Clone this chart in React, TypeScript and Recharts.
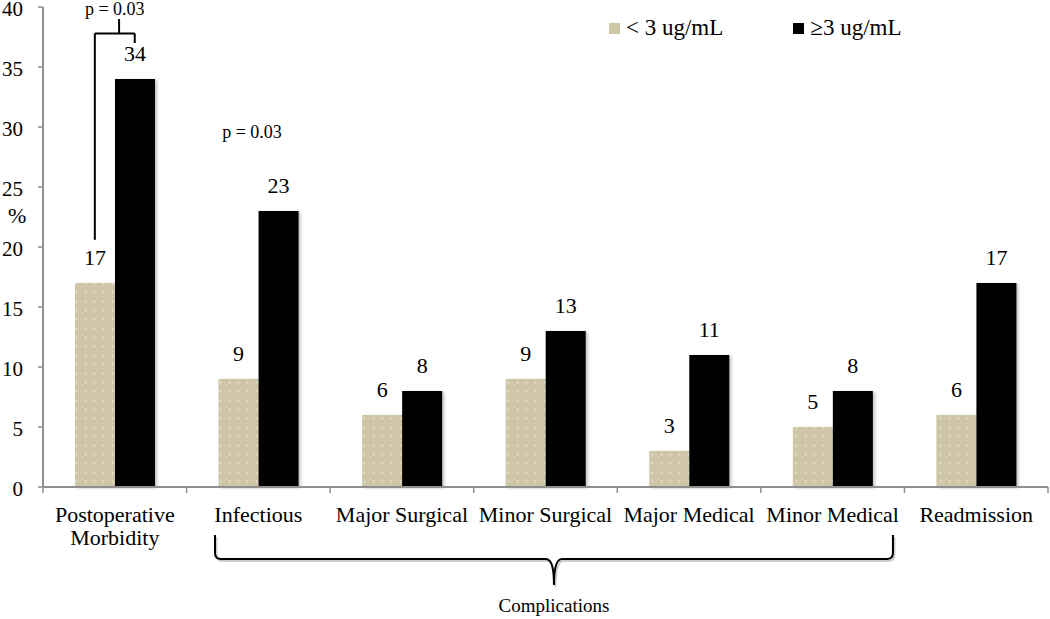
import { BarChart, Bar, XAxis, YAxis, LabelList, Legend, ReferenceLine, ReferenceDot } from 'recharts'

const categories = [
  'Postoperative Morbidity',
  'Infectious',
  'Major Surgical',
  'Minor Surgical',
  'Major Medical',
  'Minor Medical',
  'Readmission',
]
const lowValues = [17, 9, 6, 9, 3, 5, 6]
const highValues = [34, 23, 8, 13, 11, 8, 17]
const seriesNames = ['< 3 ug/mL', '≥3 ug/mL']
const yTicks = [0, 5, 10, 15, 20, 25, 30, 35, 40]

// pos = category centre on a 0..7 index scale, used only to place the annotations
const data = categories.map((name, i) => ({ name, pos: i + 0.5, low: lowValues[i], high: highValues[i] }))

const W = 1050
const H = 619
const margin = { top: 7, right: 2, bottom: 0, left: 0 }
const yAxisWidth = 43
const band = (W - margin.left - margin.right - yAxisWidth) / categories.length

const FONT = "'Liberation Serif', 'Times New Roman', serif"
const AXIS = '#8f8f8f'
const BEIGE = '#cec6a6'

function CategoryTick(props: any) {
  const { x, y, payload, index } = props
  const value: string = payload.value
  const lines = value.length > 15 ? value.split(' ') : [value]
  const last = index === categories.length - 1
  return (
    <g>
      <line x1={x - band / 2} x2={x - band / 2} y1={y} y2={y + 6} stroke={AXIS} strokeWidth={1.5} />
      {last && <line x1={x + band / 2} x2={x + band / 2} y1={y} y2={y + 6} stroke={AXIS} strokeWidth={1.5} />}
      <text x={x} y={y + 35} textAnchor="middle" fontSize={22} fill="#000" fontFamily={FONT}>
        {lines.map((l, i) => (
          <tspan key={i} x={x} dy={i === 0 ? 0 : 23}>{l}</tspan>
        ))}
      </text>
    </g>
  )
}

function LegendBox() {
  const colors = [BEIGE, '#000']
  return (
    <div style={{ display: 'flex', gap: 70, fontFamily: FONT, fontSize: 23, lineHeight: '26px' }}>
      {seriesNames.map((n, i) => (
        <div key={n} style={{ display: 'flex', alignItems: 'center', gap: 6 }}>
          <span style={{ width: 11, height: 11, background: colors[i], display: 'inline-block' }} />
          <span>{n}</span>
        </div>
      ))}
    </div>
  )
}

function Brace(props: any) {
  const { x1, y1, x2, y2 } = props
  const cx = (x1 + x2) / 2
  const yh = y1 + (y2 - y1) * 0.48
  const d = `M${x1},${y1} L${x1},${yh - 6} Q${x1},${yh} ${x1 + 6},${yh} L${cx - 8},${yh} Q${cx},${yh} ${cx},${y2} Q${cx},${yh} ${cx + 8},${yh} L${x2 - 6},${yh} Q${x2},${yh} ${x2},${yh - 6} L${x2},${y1}`
  return (
    <g>
      <path d={d} fill="none" stroke="#ccc" strokeWidth={2} transform="translate(1.5,2)" />
      <path d={d} fill="none" stroke="#000" strokeWidth={2} />
      <text x={cx} y={y2 + 27} textAnchor="middle" fontSize={19} fontFamily={FONT} fill="#000">
        Complications
      </text>
    </g>
  )
}

const pText = (p: any) => (
  <text x={p.cx} y={p.cy} textAnchor="middle" fontSize={18} fontFamily={FONT} fill="#000">
    p = 0.03
  </text>
)

export default function App() {
  return (
    <div style={{ position: 'absolute', left: 0, top: 0, width: W, height: H, background: '#fff', fontFamily: FONT }}>
      <BarChart width={W} height={H} data={data} margin={margin} barGap={0}>
        <defs>
          <pattern id="dots" width="9" height="9" patternUnits="userSpaceOnUse">
            <rect width="9" height="9" fill={BEIGE} />
            <circle cx="4.5" cy="4.5" r="1" fill="#e9e5d6" />
          </pattern>
          <filter id="shadow" x="-10%" y="-10%" width="130%" height="120%">
            <feDropShadow dx="2" dy="1" stdDeviation="1.5" floodColor="#000" floodOpacity="0.25" />
          </filter>
        </defs>
        <XAxis
          dataKey="name"
          height={132}
          axisLine={{ stroke: AXIS, strokeWidth: 2 }}
          tickLine={false}
          tickSize={0}
          tickMargin={0}
          interval={0}
          tick={<CategoryTick />}
        />
        <XAxis xAxisId="n" dataKey="pos" type="number" domain={[0, 7]} allowDataOverflow hide />
        <YAxis
          width={yAxisWidth}
          domain={[0, 40]}
          ticks={yTicks}
          interval={0}
          axisLine={{ stroke: AXIS, strokeWidth: 2 }}
          tickLine={{ stroke: AXIS, strokeWidth: 1.5 }}
          tickSize={5}
          tickMargin={15}
          tick={{ fill: '#000', fontSize: 21, fontFamily: FONT, dy: 1.5 }}
          label={{ value: '%', position: 'insideLeft', offset: 8, dy: -32, angle: 0, fill: '#000', fontSize: 22, fontFamily: FONT }}
        />
        <Legend
          verticalAlign="middle"
          align="center"
          layout="horizontal"
          wrapperStyle={{ top: 15, left: 609, width: 'auto' }}
          content={<LegendBox />}
        />
        <Bar dataKey="low" name={seriesNames[0]} fill="url(#dots)" barSize={40} filter="url(#shadow)" isAnimationActive={false}>
          <LabelList dataKey="low" position="top" offset={18} fill="#000" fontSize={22} fontFamily={FONT} />
        </Bar>
        <Bar dataKey="high" name={seriesNames[1]} fill="#000" barSize={40} filter="url(#shadow)" isAnimationActive={false}>
          <LabelList dataKey="high" position="top" offset={18} fill="#000" fontSize={22} fontFamily={FONT} />
        </Bar>

        <ReferenceLine xAxisId="n" ifOverflow="visible" stroke="#000" strokeWidth={2} segment={[{ x: 0.361, y: 20.6 }, { x: 0.361, y: 37.8 }]} />
        <ReferenceLine xAxisId="n" ifOverflow="visible" stroke="#000" strokeWidth={2} segment={[{ x: 0.361, y: 37.8 }, { x: 0.639, y: 37.8 }]} />
        <ReferenceLine xAxisId="n" ifOverflow="visible" stroke="#000" strokeWidth={2} segment={[{ x: 0.639, y: 37.8 }, { x: 0.639, y: 37.0 }]} />
        <ReferenceLine xAxisId="n" ifOverflow="visible" stroke="#000" strokeWidth={2} segment={[{ x: 0.53, y: 37.8 }, { x: 0.53, y: 39.0 }]} />
        <ReferenceDot xAxisId="n" x={0.5} y={39.35} r={0} ifOverflow="visible" shape={pText} />
        <ReferenceDot xAxisId="n" x={1.456} y={29.1} r={0} ifOverflow="visible" shape={pText} />
        <ReferenceLine
          xAxisId="n"
          ifOverflow="visible"
          segment={[{ x: 1.198, y: -4 }, { x: 5.92, y: -8.17 }]}
          shape={Brace}
        />
      </BarChart>
    </div>
  )
}
